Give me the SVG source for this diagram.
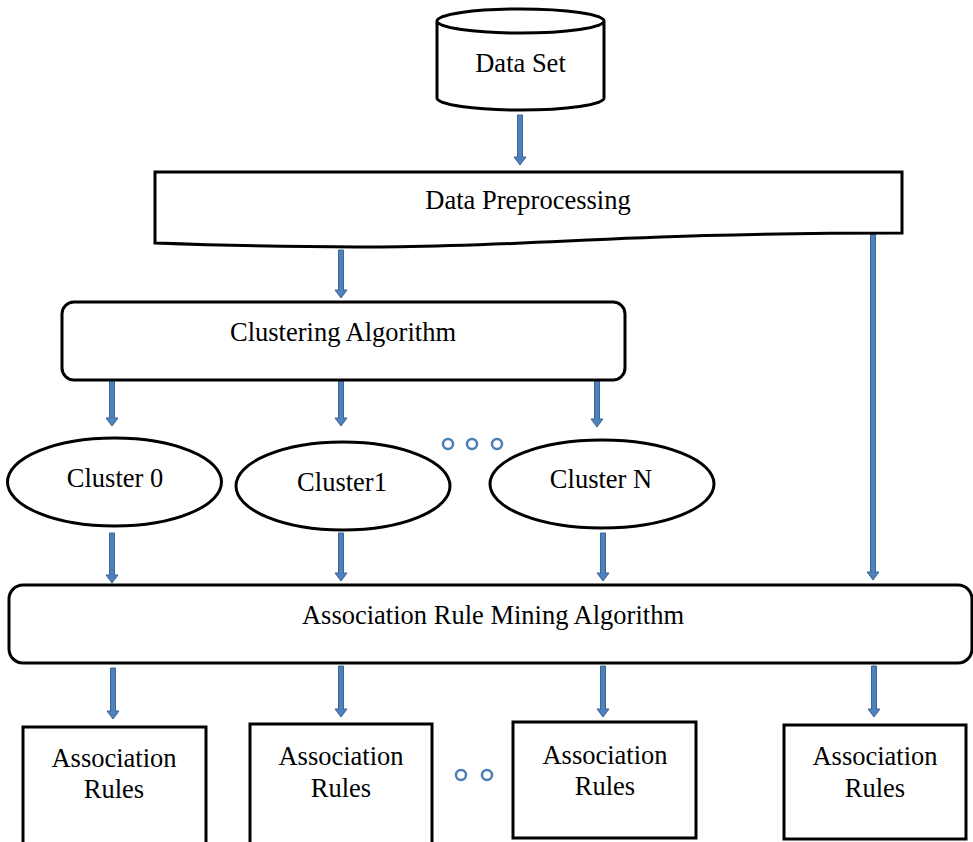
<svg xmlns="http://www.w3.org/2000/svg" width="973" height="842" viewBox="0 0 973 842">
<style>
.s{fill:#fff;stroke:#000;stroke-width:3}
.t{font-family:"Liberation Serif","Times New Roman",serif;font-size:26.5px;fill:#000;text-anchor:middle}
.a{fill:#4F81BD;stroke:#3A6696;stroke-width:1}
.d{fill:none;stroke:#4A7EB5;stroke-width:2.5}
</style>
<rect width="973" height="842" fill="#fff"/>
<g id="connectors">
<path class="a" d="M517.5,115H522.5V157H526L520,165L514,157H517.5Z"/>
<path class="a" d="M338.5,250H343.5V290H347L341,298L335,290H338.5Z"/>
<path class="a" d="M870.5,234H875.5V572H879L873,580L867,572H870.5Z"/>
<path class="a" d="M109.5,380H114.5V418H118L112,426L106,418H109.5Z"/>
<path class="a" d="M338.5,378H343.5V418H347L341,426L335,418H338.5Z"/>
<path class="a" d="M594.5,378H599.5V419H603L597,427L591,419H594.5Z"/>
<path class="a" d="M109.5,533H114.5V575H118L112,583L106,575H109.5Z"/>
<path class="a" d="M338.5,533H343.5V573H347L341,581L335,573H338.5Z"/>
<path class="a" d="M600.5,533H605.5V573H609L603,581L597,573H600.5Z"/>
<path class="a" d="M110.5,668H115.5V711H119L113,719L107,711H110.5Z"/>
<path class="a" d="M338.5,666H343.5V709H347L341,717L335,709H338.5Z"/>
<path class="a" d="M600.5,666H605.5V709H609L603,717L597,709H600.5Z"/>
<path class="a" d="M871.5,666H876.5V709H880L874,717L868,709H871.5Z"/>
</g>
<g id="dots">
<circle class="d" cx="448" cy="444" r="5"/>
<circle class="d" cx="472" cy="444" r="5"/>
<circle class="d" cx="497" cy="444" r="5"/>
<circle class="d" cx="461" cy="775" r="5"/>
<circle class="d" cx="487" cy="775" r="5"/>
</g>
<g id="dataset">
<path class="s" d="M437,21V98A83.5,12 0 0 0 604,98V21A83.5,12 0 0 0 437,21A83.5,12 0 0 0 604,21"/>
<text class="t" x="520.5" y="72">Data Set</text>
</g>
<g id="preprocessing">
<path class="s" d="M155,172H902V233C528,233 528,256 155,243Z"/>
<text class="t" x="528" y="209">Data Preprocessing</text>
</g>
<g id="clustering">
<rect class="s" x="62" y="302" width="563" height="78" rx="12"/>
<text class="t" x="343" y="341">Clustering Algorithm</text>
</g>
<g id="cluster0">
<ellipse class="s" cx="114.5" cy="482" rx="107" ry="44"/>
<text class="t" x="115" y="487">Cluster 0</text>
</g>
<g id="cluster1">
<ellipse class="s" cx="343" cy="486" rx="107" ry="44"/>
<text class="t" x="342" y="491">Cluster1</text>
</g>
<g id="clusterN">
<ellipse class="s" cx="602" cy="484" rx="112" ry="44"/>
<text class="t" x="601" y="488">Cluster N</text>
</g>
<g id="arm">
<rect class="s" x="9" y="585" width="963" height="78" rx="14"/>
<text class="t" x="493" y="624">Association Rule Mining Algorithm</text>
</g>
<g id="rules0">
<rect class="s" x="23" y="727" width="183" height="118"/>
<text class="t" x="114" y="767">Association</text>
<text class="t" x="114" y="798">Rules</text>
</g>
<g id="rules1">
<rect class="s" x="250" y="724" width="182" height="121"/>
<text class="t" x="341" y="765">Association</text>
<text class="t" x="341" y="797">Rules</text>
</g>
<g id="rulesN">
<rect class="s" x="513" y="722" width="183" height="116"/>
<text class="t" x="605" y="764">Association</text>
<text class="t" x="605" y="795">Rules</text>
</g>
<g id="rulesAll">
<rect class="s" x="784" y="725" width="182" height="114"/>
<text class="t" x="875" y="765">Association</text>
<text class="t" x="875" y="797">Rules</text>
</g>
</svg>
